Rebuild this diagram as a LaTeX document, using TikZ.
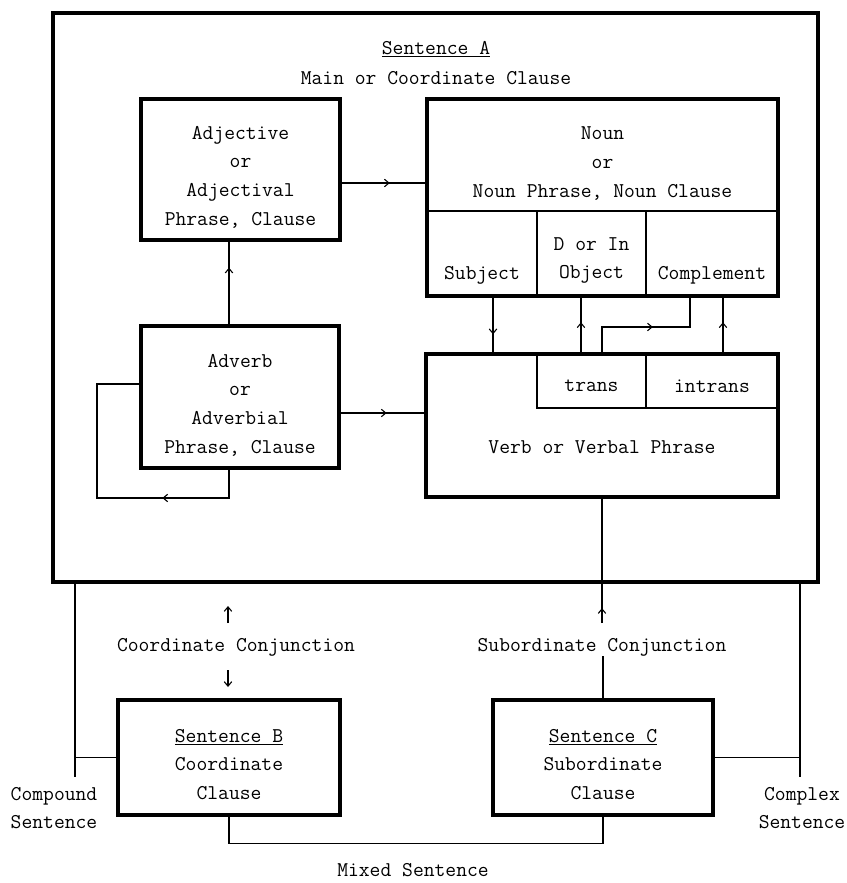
\documentclass[tikz,border=0pt]{standalone}
\usepackage{fontspec}
\usetikzlibrary{decorations.markings,arrows.meta}
\tikzset{
  bigbox/.style={draw, line width=3.3pt, minimum width=#1, inner sep=0pt},
  thinline/.style={line width=1.3pt},
  conn/.style={line width=1.2pt},
  lbl/.style={font=\ttfamily\fontsize{21}{28.7}\selectfont, align=center, inner sep=0pt},
  midarr/.style={postaction={decorate}, decoration={markings,
      mark=at position #1 with {\arrow{Straight Barb[length=4.5pt,width=7.5pt,line width=1.1pt]}}}},
  tiparr/.style={-{Straight Barb[length=4.5pt,width=7.5pt,line width=1.1pt]}}
}
\begin{document}
\begin{tikzpicture}[x=1pt,y=-1pt]
\useasboundingbox (0,0) rectangle (846,883);
% boxes
\node[bigbox=765pt, minimum height=569pt] (outer) at (435.5,297.5) {};
\node[bigbox=199pt, minimum height=141pt] (adj) at (240.5,169.5) {};
\node[bigbox=351pt, minimum height=197pt] (noun) at (602.5,197.5) {};
\node[bigbox=198pt, minimum height=142pt] (adv) at (240,397) {};
\node[bigbox=352pt, minimum height=143pt] (verb) at (602,425.5) {};
\node[bigbox=222pt, minimum height=115pt] (boxB) at (229,757.5) {};
\node[bigbox=220pt, minimum height=115pt] (boxC) at (603,757.5) {};
% helper coordinates
\coordinate (h183) at (0,183);
\coordinate (h211) at (0,211);
\coordinate (h327) at (0,327);
\coordinate (h384) at (0,384);
\coordinate (h408) at (0,408);
\coordinate (h413) at (0,413);
\coordinate (h498) at (0,498);
\coordinate (v97) at (97,0);
\coordinate (v229) at (229,0);
\coordinate (v493) at (493,0);
\coordinate (v537) at (537,0);
\coordinate (v581) at (581,0);
\coordinate (v602) at (602,0);
\coordinate (v646) at (646,0);
\coordinate (v690) at (690,0);
\coordinate (v723) at (723,0);
\coordinate (cl) at (75,777);
\coordinate (cr) at (800,777);
\coordinate (sub1) at (602,623);
\coordinate (cu1) at (228,623);
\coordinate (cu2) at (228,606);
\coordinate (cd1) at (228,670);
\coordinate (cd2) at (228,687);
% noun subdivisions
\draw[thinline] (noun.west |- h211) -- (noun.east |- h211);
\draw[thinline] (v537 |- h211) -- (v537 |- noun.south);
\draw[thinline] (v646 |- h211) -- (v646 |- noun.south);
% verb subdivisions
\draw[thinline] (v537 |- verb.north) -- (v537 |- h408) -- (verb.east |- h408);
\draw[thinline] (v646 |- verb.north) -- (v646 |- h408);
% texts
\node[lbl] (tA1) at (436,49) {\underline{Sentence A}};
\node[lbl] (tA2) at (436,78) {Main or Coordinate Clause};
\node[lbl] (tadj) at (240.5,177) {Adjective\\or\\Adjectival\\Phrase, Clause};
\node[lbl] (tnoun) at (602.5,163.5) {Noun\\or\\Noun Phrase, Noun Clause};
\node[lbl] (tsubj) at (482,275) {Subject};
\node[lbl] (tobj) at (591.5,260.5) {D or In\\Object};
\node[lbl] (tcomp) at (712,275) {Complement};
\node[lbl] (tadv) at (240,405) {Adverb\\or\\Adverbial\\Phrase, Clause};
\node[lbl] (ttrans) at (591.5,386) {trans};
\node[lbl] (tintrans) at (712,386) {intrans};
\node[lbl] (tverb) at (602,447) {Verb or Verbal Phrase};
\node[lbl] (tcoord) at (236,647) {Coordinate Conjunction};
\node[lbl] (tsub) at (602,647) {Subordinate Conjunction};
\node[lbl] (tB) at (229,764.5) {\underline{Sentence B}\\Coordinate\\Clause};
\node[lbl] (tC) at (603,764.5) {\underline{Sentence C}\\Subordinate\\Clause};
\node[lbl] (tcompound) at (54,808) {Compound\\Sentence};
\node[lbl] (tcomplex) at (802,808) {Complex\\Sentence};
\node[lbl] (tmixed) at (413,870) {Mixed Sentence};
% connectors
\draw[conn, midarr=0.575] (adj.east |- h183) -- (noun.west |- h183);
\draw[conn, midarr=0.686] (adv.north -| v229) -- (adj.south -| v229);
\draw[conn, midarr=0.55] (adv.east |- h413) -- (verb.west |- h413);
\draw[conn, midarr=0.3] (adv.south -| v229) -- (v229 |- h498) -- (v97 |- h498) -- (v97 |- h384) -- (adv.west |- h384);
\draw[conn, midarr=0.67] (noun.south -| v493) -- (verb.north -| v493);
\draw[conn, midarr=0.55] (verb.north -| v581) -- (noun.south -| v581);
\draw[conn, midarr=0.534] (verb.north -| v602) -- (v602 |- h327) -- (v690 |- h327) -- (noun.south -| v690);
\draw[conn, midarr=0.55] (verb.north -| v723) -- (noun.south -| v723);
\draw[conn, midarr=0.12] (sub1) -- (verb.south);
\draw[conn] (tsub.south -| boxC.north) -- (boxC.north);
\draw[conn, tiparr] (cu1) -- (cu2);
\draw[conn, tiparr] (cd1) -- (cd2);
\draw[conn] (outer.south -| cl) -- (cl);
\draw[conn] (boxB.west) -- (boxB.west -| cl);
\draw[conn] (outer.south -| cr) -- (cr);
\draw[conn] (boxC.east) -- (boxC.east -| cr);
\draw[conn] (boxB.south) -- ++(0,27) -| (boxC.south);
\end{tikzpicture}
\end{document}
